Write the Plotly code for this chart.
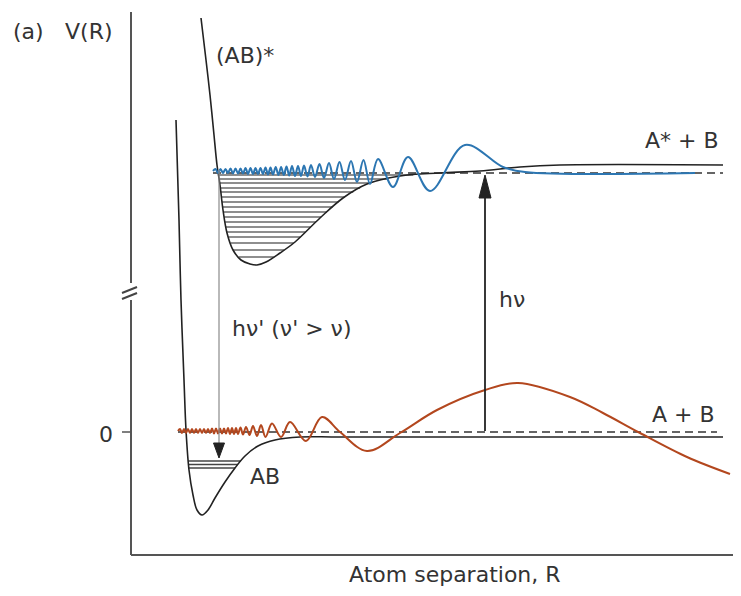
import numpy as np
import plotly.graph_objects as go

# ---------------- data (R in picture units, V with 0 at the A+B asymptote) ----------------
# ground-state potential AB
ground_R = [176, 179, 181, 184, 186, 189, 193, 197, 202, 208, 215, 225, 235, 245, 258, 275, 300, 340, 723]
ground_V = [312, 212, 132, 52, 2, -38, -63, -78, -83, -78, -66, -50, -36, -24, -14, -8, -5, -5, -5]
ground_levels_V = [-29, -32.5, -36]

# excited-state potential (AB)*
excited_R = [201, 206, 210, 214, 217, 220, 223, 227, 233, 241, 250, 257, 266, 280, 295, 320, 343, 367,
             400, 440, 480, 520, 560, 723]
excited_V = [414, 372, 337, 297, 267, 247, 222, 199, 182, 172, 168, 167, 170, 179, 190, 214, 234, 248,
             256, 259, 261, 265, 267, 267]
excited_levels_V = [257, 253, 249, 244, 240, 235, 230, 225, 220, 215, 210, 205, 200, 195, 189, 182, 175]

# energy of the continuum states (dashed lines)
upper_dash_R = [213, 723]
upper_dash_V = [259, 259]
lower_dash_R = [178, 717]
lower_dash_V = [0, 0]

# upper-state wavefunction (blue)
blue_R = [213, 215.5, 218, 220.5, 223, 225.5, 228, 230.5, 233, 235.5, 238, 240.5, 243, 245.5, 248, 250.5,
          253, 255.5, 258, 260.5, 263, 265.5, 268, 270.5, 273, 275.7, 278.4, 281.1, 283.8, 286.5, 289.2,
          292, 295, 298, 301, 304, 307.5, 311, 315, 319.5, 324, 329, 334, 339.5, 345, 351, 357, 363.5,
          370, 378, 393, 408, 430, 465, 503, 525, 695]
blue_V = [261, 263, 259, 263, 259, 263, 259, 263.5, 258.5, 263.5, 258.5, 263.5, 258.5, 264, 258, 264,
          258, 264, 258, 264, 258, 264.5, 257.5, 264.5, 257.5, 265, 257, 265, 257, 265.5, 256.5,
          266, 256, 266, 256, 266.5, 255.5, 267, 255, 268, 254, 269, 253, 270, 252, 271, 250, 272,
          248, 273, 245, 275, 241, 287, 265, 260, 259]

# lower-state wavefunction (red)
red_R = [178, 180, 182, 184, 186, 188, 190, 192, 194, 196, 198, 200, 202, 204, 206, 208, 210, 212, 214,
         216, 218, 220, 222, 224, 226, 228, 230, 232, 234, 236, 238, 240.5, 243, 246, 249.5, 253, 257,
         261, 265.5, 272, 281, 290, 306, 322, 340, 367, 400, 437, 485, 518, 570, 603, 640, 687, 730]
red_V = [1, 3, -1, 3, -1, 3, -1, 3, -1, 3, -1, 3, -1, 3, -1, 3, -1, 3.5, -1.5,
         3.5, -1.5, 3.5, -1.5, 3.5, -1.5, 4, -2, 4, -2, 4, -2, 4.5, -2.5, 5, -3, 6, -4,
         7, -5, 8.5, -5, 10, -9, 15, 0, -19, -1, 22, 42, 49, 35, 19, -1, -25, -42]

# transitions
emission_R, emission_V = 219, [262, -26]       # hv' (downward, tip at the bottom)
absorption_R, absorption_V = 485, [1, 257]     # hv (upward, tip at the top)

# axis frame
axis_R = 131
upper_axis_V = [420, 149]
lower_axis_V = [132, -123]
xaxis_R = [131, 741]
zero_tick_V = 0

# ---------------- styling ----------------
INK = "#222222"
TXT = "#333333"
AXC = "#555555"
RED = "#B3471E"
BLUE = "#2C76B2"
FONT = "DejaVu Sans"
FS = 22

fig = go.Figure()


def line(x, y, color, width, shape="linear", dash=None):
    fig.add_trace(go.Scatter(x=x, y=y, mode="lines",
                             line=dict(color=color, width=width, shape=shape, dash=dash, smoothing=1.0),
                             hoverinfo="skip", showlegend=False))


def levels(R, V, lvls, i_min, color, width):
    R = np.asarray(R, float)
    V = np.asarray(V, float)
    lv = np.asarray(lvls, float)
    # left branch (V decreasing) and right branch (V increasing) of the well
    left = np.interp(lv, V[:i_min + 1][::-1], R[:i_min + 1][::-1])
    rv = V[i_min:]
    rr = R[i_min:]
    k = int(np.argmax(rv)) + 1
    right = np.interp(lv, rv[:k], rr[:k])
    xs, ys = [], []
    for a, b, v in zip(left, right, lv):
        xs += [a, b, None]
        ys += [v, v, None]
    line(xs, ys, color, width)


# vibrational levels
levels(excited_R, excited_V, excited_levels_V, int(np.argmin(excited_V)), "#1e1e1e", 1.2)
levels(ground_R, ground_V, ground_levels_V, int(np.argmin(ground_V)), "#444444", 1.3)

# dashed continuum energies
line(lower_dash_R, lower_dash_V, "#333333", 1.4, dash="8px,5px")
line(upper_dash_R, upper_dash_V, "#333333", 1.4, dash="8px,5px")

# potentials
line(ground_R, ground_V, INK, 1.6, shape="spline")
line(excited_R, excited_V, INK, 1.6, shape="spline")

# wavefunctions
line(red_R, red_V, RED, 2.0, shape="spline")
line(blue_R, blue_V, BLUE, 2.0, shape="spline")


def arrow(x, v_from, v_tip, color, width, head_color, head_len, half_w):
    d = 1 if v_tip > v_from else -1
    base = v_tip - d * head_len
    line([x, x], [v_from, base], color, width)
    fig.add_trace(go.Scatter(x=[x - half_w, x + half_w, x, x - half_w],
                             y=[base, base, v_tip, base], mode="lines", fill="toself",
                             fillcolor=head_color, line=dict(color=head_color, width=1),
                             hoverinfo="skip", showlegend=False))


arrow(emission_R, emission_V[0], emission_V[1], "#8a8a8a", 1.2, INK, 15, 5.5)
arrow(absorption_R, absorption_V[0], absorption_V[1], INK, 1.8, INK, 23, 6)

# axis frame with break
shapes = [
    dict(type="line", x0=axis_R, x1=axis_R, y0=upper_axis_V[0], y1=upper_axis_V[1],
         line=dict(color=AXC, width=2)),
    dict(type="line", x0=axis_R, x1=axis_R, y0=lower_axis_V[0], y1=lower_axis_V[1],
         line=dict(color=AXC, width=2)),
    dict(type="line", x0=xaxis_R[0], x1=xaxis_R[1], y0=lower_axis_V[1], y1=lower_axis_V[1],
         line=dict(color=AXC, width=2)),
    dict(type="line", x0=axis_R - 9, x1=axis_R, y0=zero_tick_V, y1=zero_tick_V,
         line=dict(color=AXC, width=1.5)),
    # break marks
    dict(type="line", x0=axis_R - 9, x1=axis_R + 6, y0=139, y1=145, line=dict(color="#444", width=2)),
    dict(type="line", x0=axis_R - 9, x1=axis_R + 6, y0=133, y1=139, line=dict(color="#444", width=2)),
]
for s in shapes:
    s.update(xref="x", yref="y", layer="above")

texts = [
    ("(a)", 28, 401), ("V(R)", 89, 401), ("(AB)*", 245, 377),
    ("A* + B", 682, 292), ("hν' (ν' > ν)", 292, 104), ("hν", 512, 133),
    ("A + B", 683, 18), ("AB", 265, -44), ("0", 106, -2),
    ("Atom separation, R", 455, -142),
]
annotations = [dict(text=t, x=x, y=y, xref="x", yref="y", showarrow=False,
                    xanchor="center", yanchor="middle",
                    font=dict(family=FONT, size=FS, color=TXT)) for t, x, y in texts]

# the page places the figure 8 px in from the top-left corner; ranges compensate
fig.update_layout(
    width=741, height=596, margin=dict(l=0, r=0, t=0, b=0),
    paper_bgcolor="white", plot_bgcolor="white",
    xaxis=dict(range=[8, 749], visible=False, fixedrange=True),
    yaxis=dict(range=[-172, 424], visible=False, fixedrange=True),
    shapes=shapes, annotations=annotations, showlegend=False,
)

fig.write_html("out.html")
